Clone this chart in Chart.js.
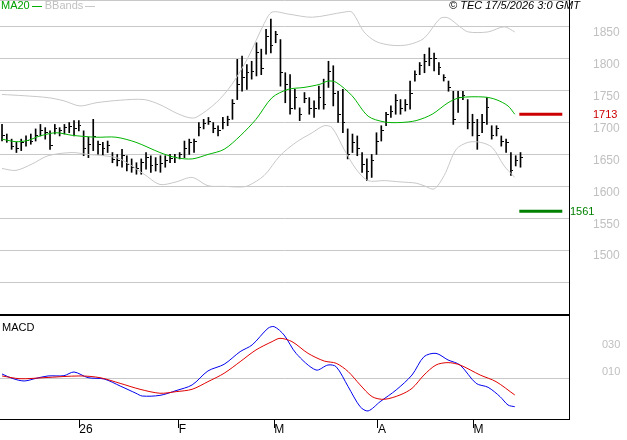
<!DOCTYPE html>
<html>
<head>
<meta charset="utf-8">
<script src="https://cdn.jsdelivr.net/npm/chart.js@4.4.1/dist/chart.umd.min.js"></script>
<style>
  body { margin: 0; background: #fff; width: 627px; height: 440px; overflow: hidden; position: relative; font-family: "Liberation Sans", Arial, sans-serif; }
  canvas { position: absolute; left: 0; }
  #top { top: 0; }
  #macd { top: 314px; }
  .lbl { position: absolute; font-size: 11px; white-space: nowrap; }
  .seg { display: inline-block; width: 10px; height: 1px; vertical-align: middle; margin: 0 3px 0 2px; }
  #sep { position: absolute; left: 0; top: 314px; width: 570px; height: 2px; background: #000; }
</style>
</head>
<body>
<canvas id="top" width="627" height="314"></canvas>
<canvas id="macd" width="627" height="126"></canvas>
<div id="sep"></div>
<div class="lbl" style="left:1px;top:-1px;color:#00a000">MA20<span class="seg" style="background:#00b000"></span><span style="color:#c0c0c0">BBands</span><span class="seg" style="background:#c8c8c8"></span></div>
<div class="lbl" style="left:449px;top:-1px;color:#000;font-style:italic">© TEC 17/5/2026 3:0 GMT</div>
<script>
// daily bars, index 0 = mid December 2025
const highs = [1697,1682,1674,1669,1674,1679,1682,1690,1697,1692,1687,1697,1692,1697,1700,1703,1703,1687,1677,1705,
  1671,1669,1671,1653,1650,1658,1648,1643,1637,1643,1653,1648,1645,1648,1648,1650,1650,1653,1671,1674,
  1674,1700,1705,1708,1700,1695,1708,1710,1736,1799,1804,1791,1796,1825,1815,1846,1862,1843,1830,1778,
  1775,1752,1723,1747,1739,1734,1757,1768,1796,1789,1749,1752,1690,1682,1679,1653,1643,1650,1684,1695,
  1716,1726,1744,1736,1736,1765,1781,1794,1807,1817,1809,1794,1775,1765,1749,1749,1749,1736,1713,1705,
  1713,1739,1695,1695,1679,1674,1653,1648,1653];
const lows = [1671,1669,1658,1653,1656,1663,1666,1671,1679,1674,1658,1682,1679,1682,1684,1679,1687,1648,1645,1656,
  1650,1648,1653,1637,1632,1630,1624,1622,1619,1619,1627,1622,1624,1622,1630,1637,1637,1643,1645,1650,
  1653,1679,1690,1697,1684,1679,1690,1695,1705,1736,1749,1752,1768,1773,1775,1807,1809,1825,1757,1731,
  1713,1721,1703,1731,1713,1708,1721,1721,1755,1726,1700,1684,1643,1653,1648,1622,1609,1614,1650,1671,
  1695,1708,1713,1713,1718,1721,1765,1775,1778,1789,1781,1775,1765,1749,1697,1716,1736,1690,1679,1658,
  1684,1697,1674,1679,1663,1653,1617,1632,1630];
const closes = [1680,1672,1662,1660,1668,1672,1670,1680,1688,1684,1664,1690,1688,1692,1694,1690,1695,1660,1666,1678,
  1665,1660,1664,1642,1640,1648,1634,1630,1628,1638,1645,1632,1634,1636,1640,1644,1646,1650,1660,1668,
  1670,1692,1698,1702,1690,1688,1700,1704,1730,1760,1770,1778,1780,1810,1785,1835,1820,1838,1778,1760,
  1722,1740,1712,1738,1722,1722,1740,1728,1780,1745,1712,1700,1650,1668,1660,1635,1624,1640,1670,1688,
  1712,1718,1735,1722,1728,1745,1775,1790,1795,1800,1800,1786,1770,1755,1705,1740,1742,1700,1700,1680,
  1700,1724,1680,1690,1670,1668,1625,1640,1646];

// indicator lines at sample positions (bar index, value)
const maX = [0,2.9,5.4,7.9,11.25,14.6,19.6,23.75,27.9,32.9,36.25,39.6,42.9,46.25,49.6,52.9,56.25,59.6,62.9,66.25,67.9,69.6,72.9,76.25,79.6,82.9,86.25,89.6,92.9,95.4,100.4,102.9,105.4,106.8];
const maY = [1674,1670,1672,1679,1684,1680,1677,1677,1669,1653,1645,1643,1650,1658,1679,1705,1739,1752,1755,1760,1765,1763,1742,1710,1701,1700,1703,1713,1731,1739,1740,1736,1726,1713];
const upX = [0,4.6,9.6,12.9,16.25,19.6,24.6,29.6,32.9,36.25,38.75,40.4,44.6,47.9,51.25,54.6,56.25,59.6,64.6,71.25,72.9,75.4,77.9,81.25,84.6,87.9,91.25,92.9,95.4,97.1,101.25,104.6,106.8];
const upY = [1744,1742,1739,1734,1726,1731,1735,1736,1728,1715,1708,1708,1731,1760,1802,1855,1873,1870,1865,1873,1873,1842,1827,1821,1822,1832,1863,1864,1850,1842,1842,1850,1842];
const loX = [0,2.9,6.25,9.6,14.6,17.9,21.25,24.6,29.6,32.9,36.25,39.6,42.9,46.25,49.6,51.25,54.6,57.9,61.25,64.6,67.1,68.75,71.25,73.75,76.25,79.6,82.9,86.25,87.9,90,92.1,94.6,97.1,99.6,102.1,104.6,106.8];
const loY = [1628,1625,1635,1648,1653,1650,1648,1643,1619,1603,1607,1614,1601,1600,1599,1601,1617,1648,1669,1684,1695,1692,1658,1627,1609,1609,1607,1605,1601,1596,1617,1658,1669,1669,1661,1632,1614];

const macdX = [0,2.1,4.6,7.1,9.6,12.9,15,17.9,21.25,24.6,27.9,29.2,32.9,36.25,39.6,42.9,46.25,49.6,52.1,55.4,56.7,58.75,61.25,65.4,67.9,69.6,72.1,74.6,76.25,78.75,82.1,85.4,87.9,90.4,92.9,95.4,98.75,101.25,103.75,105.4,106.8];
const macdY = [3.8,0.5,-1.5,0.5,2.3,2.5,5.3,1.0,0,-5.3,-10.8,-12.9,-12.4,-8.8,-4.5,6.1,11.1,20.7,25.8,38.4,39.6,33.3,19.4,6.8,10.6,9.3,-5.8,-21,-24.2,-17.2,-8.3,3,16.9,19.4,14.4,10.6,-3.3,-6.3,-13.4,-19.7,-21];
const sigX = [0,3.75,8.75,16.25,20.4,24.6,28.75,32.9,36.25,39.6,42.9,46.25,49.6,52.9,56.25,57.9,60.4,63.75,67.1,69.6,72.1,74.6,77.1,79.6,82.9,85.4,87.9,90.4,92.9,95.4,99.6,102.9,106.8];
const sigY = [2.3,0.2,1.0,2.3,1.0,-3.3,-7.8,-10.8,-9.6,-7.8,-2.0,4.3,13.1,22,28.3,30.8,28.3,19.4,13.6,11.9,5.6,-4.5,-13.4,-15.4,-12.1,-7.1,3,10.6,12.4,10.6,3,-2,-12.1];

const monthPos = [16.1, 36.8, 56.7, 78.3, 98.2];
const monthLbl = ["26", "F", "M", "A", "M"];

const supportLevel = 1561, resistLevel = 1713;
const levelFrom = 107.75, levelTo = 116.7;

const X_MIN = -0.42, X_MAX = 118.1;
const AXIS_W = 58;
const FONT = { family: "Liberation Sans, Arial, sans-serif", size: 11 };

// close tick drawn to the right of the bar
const tick = document.createElement("canvas");
tick.width = 5; tick.height = 1;
const tctx = tick.getContext("2d");
tctx.fillStyle = "#000";
tctx.fillRect(3, 0, 2, 1);

const pts = (xs, ys) => xs.map((x, i) => ({ x: x, y: ys[i] }));

const fitRight = (s) => { s.width = AXIS_W; s.paddingTop = 0; s.paddingBottom = 0; };

const levelLabels = {
  id: "levelLabels",
  afterDraw(chart) {
    const ctx = chart.ctx, y = chart.scales.y, r = chart.chartArea.right;
    ctx.save();
    ctx.font = "11px " + FONT.family;
    ctx.textBaseline = "middle";
    ctx.fillStyle = "#cc0000";
    ctx.fillText(String(resistLevel), r + 24, y.getPixelForValue(resistLevel) + 1);
    ctx.fillStyle = "#008000";
    ctx.fillText(String(supportLevel), r + 1, y.getPixelForValue(supportLevel) + 1);
    ctx.restore();
  },
};

new Chart(document.getElementById("top"), {
  data: {
    datasets: [
      { type: "line", data: pts(upX, upY), borderColor: "#c8c8c8", borderWidth: 1, pointRadius: 0, tension: 0.3 },
      { type: "line", data: pts(loX, loY), borderColor: "#c8c8c8", borderWidth: 1, pointRadius: 0, tension: 0.3 },
      { type: "line", data: pts(maX, maY), borderColor: "#00b400", borderWidth: 1, pointRadius: 0, tension: 0.3 },
      { type: "bar", data: highs.map((h, i) => ({ x: i, y: [lows[i], h] })), backgroundColor: "#000", barThickness: 1 },
      { type: "scatter", data: closes.map((c, i) => ({ x: i, y: c })), pointStyle: tick, pointRadius: 2 },
      { type: "line", data: [{ x: levelFrom, y: resistLevel }, { x: levelTo, y: resistLevel }], borderColor: "#cc0000", borderWidth: 3, pointRadius: 0 },
      { type: "line", data: [{ x: levelFrom, y: supportLevel }, { x: levelTo, y: supportLevel }], borderColor: "#008000", borderWidth: 3, pointRadius: 0 },
    ],
  },
  options: {
    responsive: false, animation: false, devicePixelRatio: 1,
    layout: { padding: 0, autoPadding: false },
    plugins: { legend: { display: false }, tooltip: { enabled: false } },
    scales: {
      x: { type: "linear", min: X_MIN, max: X_MAX, offset: false, display: false },
      y: {
        position: "right", min: 1400, max: 1892,
        afterFit: fitRight,
        grid: { color: "#c8c8c8", drawTicks: true, tickLength: 24, tickColor: "rgba(0,0,0,0)" },
        border: { color: "#000" },
        ticks: {
          stepSize: 50, color: "#c0c0c0", font: { ...FONT, size: 12 }, padding: 0, labelOffset: 6,
          callback: (v) => (v >= 1500 && v <= 1850 ? v : ""),
        },
      },
    },
  },
  plugins: [levelLabels],
});

new Chart(document.getElementById("macd"), {
  data: {
    datasets: [
      { type: "line", data: pts(sigX, sigY), borderColor: "#e00000", borderWidth: 1, pointRadius: 0, tension: 0.3 },
      { type: "line", data: pts(macdX, macdY), borderColor: "#0000ee", borderWidth: 1, pointRadius: 0, tension: 0.3 },
    ],
  },
  options: {
    responsive: false, animation: false, devicePixelRatio: 1,
    layout: { padding: { top: 2 }, autoPadding: false },
    plugins: { legend: { display: false }, tooltip: { enabled: false } },
    scales: {
      x: {
        type: "linear", min: X_MIN, max: X_MAX, offset: false,
        afterBuildTicks: (s) => { s.ticks = monthPos.map((v) => ({ value: v })); },
        afterFit: (s) => { s.height = 21; s.paddingLeft = 0; s.paddingRight = 0; },
        grid: { drawOnChartArea: false, drawTicks: true, tickLength: 9, color: "#000" },
        border: { color: "#000" },
        ticks: {
          color: "#000", font: { ...FONT, size: 12 }, align: "start", padding: -6, maxRotation: 0,
          callback: (v, i) => monthLbl[i],
        },
      },
      y: {
        position: "right", min: -30.3, max: 47.7,
        afterFit: fitRight,
        afterBuildTicks: (s) => { s.ticks = [{ value: 0 }, { value: 10 }, { value: 30 }]; },
        grid: { color: (c) => (c.tick && c.tick.value === 0 ? "#c8c8c8" : "rgba(0,0,0,0)"), drawTicks: true, tickLength: 33, tickColor: "rgba(0,0,0,0)" },
        border: { color: "#000" },
        ticks: {
          color: "#c0c0c0", font: FONT, padding: 0, labelOffset: 6,
          callback: (v) => (v === 0 ? "" : "0" + v),
        },
      },
    },
  },
  plugins: [{
    id: "macdLabel",
    afterDraw(chart) {
      const ctx = chart.ctx;
      ctx.save();
      ctx.font = "11px " + FONT.family;
      ctx.fillStyle = "#000";
      ctx.textBaseline = "top";
      ctx.fillText("MACD", chart.chartArea.left + 2, chart.chartArea.top + 6);
      ctx.restore();
    },
  }],
});
</script>
</body>
</html>
